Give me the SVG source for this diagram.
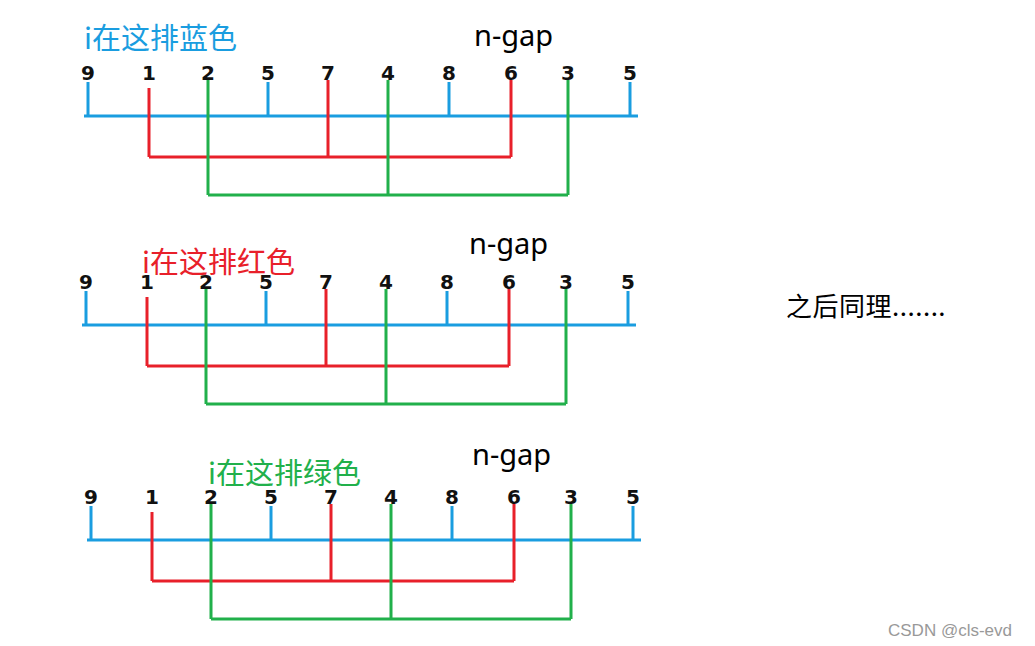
<svg xmlns="http://www.w3.org/2000/svg" width="1035" height="646" viewBox="0 0 1035 646">
<style>
.num{font:bold 20px "DejaVu Sans",sans-serif;fill:#111;text-anchor:middle}
.b{stroke:#1a9de0;stroke-width:3;fill:none}
.r{stroke:#e8202a;stroke-width:3;fill:none}
.g{stroke:#21b04b;stroke-width:3;fill:none}
.lbl{font:29px "Noto Sans CJK SC","Noto Sans",sans-serif}
.ng{font:29px "Noto Sans","Open Sans",sans-serif;fill:#000}
</style>
<rect width="1035" height="646" fill="#fff"/>
<defs>
<g id="row">
<g id="nums">
<text class="num" x="88" y="80">9</text><text class="num" x="149" y="80">1</text><text class="num" x="208" y="80">2</text><text class="num" x="268" y="80">5</text><text class="num" x="328" y="80">7</text><text class="num" x="388" y="80">4</text><text class="num" x="449" y="80">8</text><text class="num" x="511" y="80">6</text><text class="num" x="568" y="80">3</text><text class="num" x="630" y="80">5</text>
</g>
<g id="connectors">
<path class="b" d="M84 116H638M88 82V116M268 82V116M449 82V116M630 82V116"/>
<path class="r" d="M149 88V157M328 80V157M511 80V157M149 157H511"/>
<path class="g" d="M208 80V195M388 80V195M568 80V195M208 195H568"/>
</g>
</g>
</defs>
<g id="panel1"><use href="#row"/>
<text class="lbl" x="84" y="49" fill="#1a9de0">i在这排蓝色</text><text class="ng" x="474" y="46">n-gap</text></g>
<g id="panel2"><use href="#row" transform="translate(-2,209)"/>
<text class="lbl" x="142" y="273" fill="#e8202a">i在这排红色</text><text class="ng" x="469" y="254">n-gap</text></g>
<g id="panel3"><use href="#row" transform="translate(3,424)"/>
<text class="lbl" x="208" y="484" fill="#21b04b">i在这排绿色</text><text class="ng" x="472" y="465">n-gap</text></g>
<text x="786" y="316" style="font:26px 'Noto Sans CJK SC',sans-serif;letter-spacing:0.5px">之后同理.......</text>
<text x="888" y="636" style="font:17px 'Liberation Sans',sans-serif" fill="#999">CSDN @cls-evd</text>
</svg>
